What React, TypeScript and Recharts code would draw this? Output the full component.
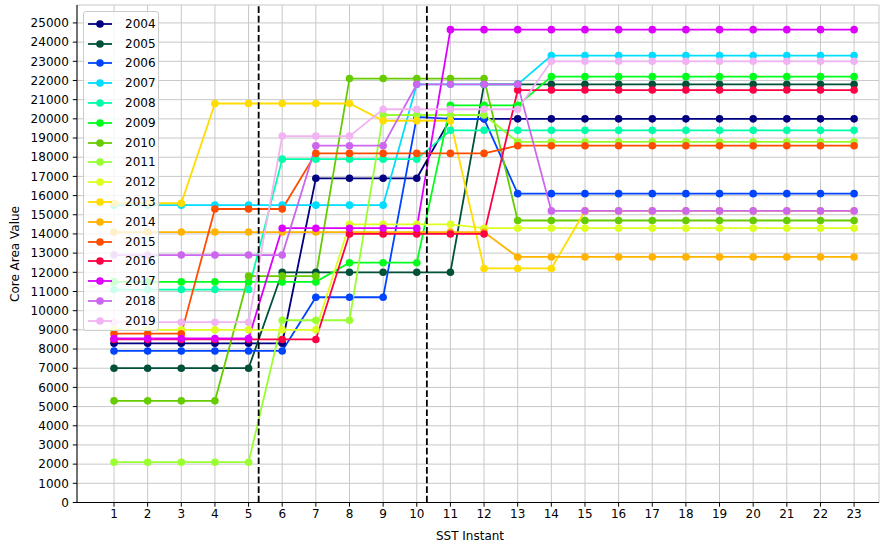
import React from 'react';
import { LineChart, Line, XAxis, YAxis, CartesianGrid, ReferenceLine, Label } from 'recharts';

const instants = [1, 2, 3, 4, 5, 6, 7, 8, 9, 10, 11, 12, 13, 14, 15, 16, 17, 18, 19, 20, 21, 22, 23];
const yTicks = [0, 1000, 2000, 3000, 4000, 5000, 6000, 7000, 8000, 9000, 10000, 11000, 12000, 13000, 14000, 15000, 16000, 17000, 18000, 19000, 20000, 21000, 22000, 23000, 24000, 25000];
const cutPoints = [5.3, 10.3];

const years = ['2004', '2005', '2006', '2007', '2008', '2009', '2010', '2011', '2012', '2013', '2014', '2015', '2016', '2017', '2018', '2019'];
const colors = ['#000080', '#00503a', '#0044ff', '#00ddff', '#00ffaa', '#00ff1a', '#66cc00', '#99ff33', '#ddff22', '#ffdd00', '#ffb300', '#ff4d00', '#ff0044', '#dd00ff', '#cc66ee', '#f2b3f2'];

const s2004 = [8300, 8300, 8300, 8300, 8300, 8300, 16900, 16900, 16900, 16900, 20000, 20000, 20000, 20000, 20000, 20000, 20000, 20000, 20000, 20000, 20000, 20000, 20000];
const s2005 = [7000, 7000, 7000, 7000, 7000, 12000, 12000, 12000, 12000, 12000, 12000, 21800, 21800, 21800, 21800, 21800, 21800, 21800, 21800, 21800, 21800, 21800, 21800];
const s2006 = [7900, 7900, 7900, 7900, 7900, 7900, 10700, 10700, 10700, 20100, 20000, 20000, 16100, 16100, 16100, 16100, 16100, 16100, 16100, 16100, 16100, 16100, 16100];
const s2007 = [15500, 15500, 15500, 15500, 15500, 15500, 15500, 15500, 15500, 21800, 21800, 21800, 21800, 23300, 23300, 23300, 23300, 23300, 23300, 23300, 23300, 23300, 23300];
const s2008 = [11100, 11100, 11100, 11100, 11100, 17900, 17900, 17900, 17900, 17900, 19400, 19400, 19400, 19400, 19400, 19400, 19400, 19400, 19400, 19400, 19400, 19400, 19400];
const s2009 = [11500, 11500, 11500, 11500, 11500, 11500, 11500, 12500, 12500, 12500, 20700, 20700, 20700, 22200, 22200, 22200, 22200, 22200, 22200, 22200, 22200, 22200, 22200];
const s2010 = [5300, 5300, 5300, 5300, 11800, 11800, 11800, 22100, 22100, 22100, 22100, 22100, 14700, 14700, 14700, 14700, 14700, 14700, 14700, 14700, 14700, 14700, 14700];
const s2011 = [2100, 2100, 2100, 2100, 2100, 9500, 9500, 9500, 20200, 20200, 20200, 20200, 18800, 18800, 18800, 18800, 18800, 18800, 18800, 18800, 18800, 18800, 18800];
const s2012 = [9000, 9000, 9000, 9000, 9000, 9000, 9000, 14500, 14500, 14500, 14500, 14300, 14300, 14300, 14300, 14300, 14300, 14300, 14300, 14300, 14300, 14300, 14300];
const s2013 = [15600, 15600, 15600, 20800, 20800, 20800, 20800, 20800, 19900, 19900, 19900, 12200, 12200, 12200, 15200, 15200, 15200, 15200, 15200, 15200, 15200, 15200, 15200];
const s2014 = [14100, 14100, 14100, 14100, 14100, 14100, 14100, 14100, 14100, 14100, 14100, 14100, 12800, 12800, 12800, 12800, 12800, 12800, 12800, 12800, 12800, 12800, 12800];
const s2015 = [8800, 8800, 8800, 15300, 15300, 15300, 18200, 18200, 18200, 18200, 18200, 18200, 18600, 18600, 18600, 18600, 18600, 18600, 18600, 18600, 18600, 18600, 18600];
const s2016 = [8500, 8500, 8500, 8500, 8500, 8500, 8500, 14000, 14000, 14000, 14000, 14000, 21500, 21500, 21500, 21500, 21500, 21500, 21500, 21500, 21500, 21500, 21500];
const s2017 = [8550, 8550, 8550, 8550, 8550, 14300, 14300, 14300, 14300, 14300, 24650, 24650, 24650, 24650, 24650, 24650, 24650, 24650, 24650, 24650, 24650, 24650, 24650];
const s2018 = [12900, 12900, 12900, 12900, 12900, 12900, 18600, 18600, 18600, 21800, 21800, 21800, 21800, 15200, 15200, 15200, 15200, 15200, 15200, 15200, 15200, 15200, 15200];
const s2019 = [9400, 9400, 9400, 9400, 9400, 19100, 19100, 19100, 20500, 20500, 20500, 20500, 20500, 23000, 23000, 23000, 23000, 23000, 23000, 23000, 23000, 23000, 23000];

const series = [s2004, s2005, s2006, s2007, s2008, s2009, s2010, s2011, s2012, s2013, s2014, s2015, s2016, s2017, s2018, s2019];

const rows = instants.map((x, i) => {
  const r: Record<string, number> = { x };
  years.forEach((y, k) => { r[y] = series[k][i]; });
  return r;
});

const FONT = '"DejaVu Sans", sans-serif';

const LegendBox = () => (
  <div style={{
    position: 'absolute', left: 83, top: 11, width: 76, height: 320, boxSizing: 'border-box',
    background: 'rgba(255,255,255,0.8)', border: '1px solid #cccccc', borderRadius: 3,
    fontFamily: FONT, fontSize: 12, color: '#000',
  }}>
    {years.map((y, k) => (
      <div key={y} style={{ position: 'absolute', left: 0, top: 2 + k * 19.8, height: 19.8, display: 'flex', alignItems: 'center' }}>
        <svg width={36} height={12} style={{ marginLeft: 4 }}>
          <line x1={0} y1={6} x2={24} y2={6} stroke={colors[k]} strokeWidth={1.8} />
          <circle cx={12} cy={6} r={3.8} fill={colors[k]} />
        </svg>
        <span style={{ marginLeft: 1 }}>{y}</span>
      </div>
    ))}
  </div>
);

export default function App() {
  return (
    <div style={{ position: 'absolute', left: 0, top: 0, width: 880, height: 544, background: '#fff' }}>
      <LineChart width={880} height={544} data={rows} margin={{ top: 5, right: 1, bottom: 0, left: 0 }}>
        <CartesianGrid stroke="#c8c8c8" strokeWidth={1} />
        <XAxis dataKey="x" type="number" domain={[-0.1, 23.74]} ticks={instants} allowDataOverflow
          height={41.5} tickSize={4.2} tickMargin={3} interval={0}
          stroke="#000" tick={{ fill: '#000', fontSize: 12, fontFamily: FONT }}>
          <Label content={() => (
            <text x={470} y={540} textAnchor="middle" fontSize={12} fontFamily={FONT} fill="#000">SST Instant</text>
          )} />
        </XAxis>
        <XAxis xAxisId="top" orientation="top" type="number" domain={[-0.1, 23.74]} height={0} tick={false} tickLine={false} stroke="#000" />
        <YAxis type="number" domain={[0, 25935]} ticks={yTicks} allowDataOverflow interval={0}
          width={77} tickSize={4.2} tickMargin={4} stroke="#000" tick={{ fill: '#000', fontSize: 12, fontFamily: FONT }}>
          <Label content={() => (
            <text x={15} y={254} transform="rotate(-90 15 254)" textAnchor="middle" dominantBaseline="central" fontSize={12} fontFamily={FONT} fill="#000">Core Area Value</text>
          )} />
        </YAxis>
        <YAxis yAxisId="right" orientation="right" type="number" domain={[0, 25935]} width={0} tick={false} tickLine={false} stroke="#000" />
        {years.map((y, k) => (
          <Line key={y} dataKey={y} type="linear" stroke={colors[k]} strokeWidth={1.8}
            dot={{ r: 3.8, fill: colors[k], stroke: colors[k], strokeWidth: 0 }} activeDot={false}
            isAnimationActive={false} />
        ))}
        {cutPoints.map((c) => (
          <ReferenceLine key={c} x={c} stroke="#000" strokeWidth={1.8} strokeDasharray="6.7 2.9" />
        ))}
      </LineChart>
      <LegendBox />
    </div>
  );
}
